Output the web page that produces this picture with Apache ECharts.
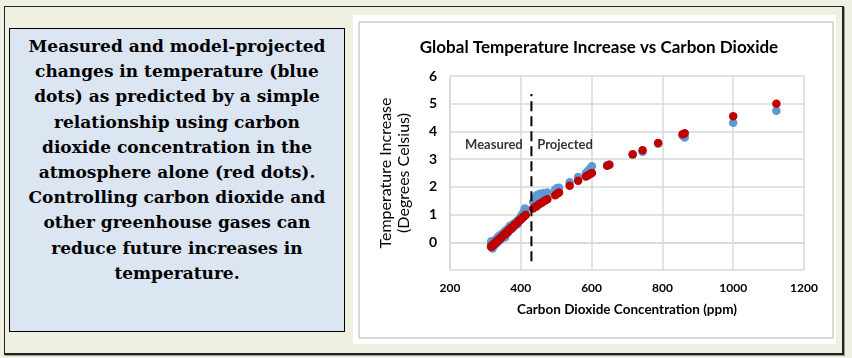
<!DOCTYPE html>
<html><head><meta charset="utf-8">
<script src="https://cdn.jsdelivr.net/npm/echarts@6/dist/echarts.min.js"></script>
<style>
html,body{margin:0;padding:0;width:852px;height:358px;overflow:hidden;background:#f0f0e2;}
#outer{position:absolute;left:4px;top:6px;width:837px;height:346px;border:1px solid #222;border-right:2px solid #222;border-bottom:2px solid #222;box-shadow:1px 1px 0 #999;}
#panel{position:absolute;left:353px;top:15px;width:483px;height:329px;background:#fff;}
#panelIn{position:absolute;left:358px;top:21px;width:472px;height:314px;border:2px solid #dadada;}
#box{position:absolute;left:9px;top:28px;width:334px;height:302px;background:#dce6f2;border:1px solid #000;}
#boxText{position:absolute;left:9px;top:34px;width:336px;text-align:center;font-family:"DejaVu Serif",serif;font-weight:bold;font-size:17px;line-height:25.2px;color:#000;}
#chart{position:absolute;left:0;top:0;width:852px;height:358px;}
</style></head>
<body>
<div id="outer"></div>
<div id="panel"></div>
<div id="panelIn"></div>
<div id="box"></div>
<div id="boxText">Measured and model-projected<br>changes in temperature (blue<br>dots) as predicted by a simple<br>relationship using carbon<br>dioxide concentration in the<br>atmosphere alone (red dots).<br>Controlling carbon dioxide and<br>other greenhouse gases can<br>reduce future increases in<br>temperature.</div>
<div id="chart"></div>
<script>
const measuredCO2 = [316.0,316.9,317.6,318.5,319.0,319.6,320.0,321.4,322.2,323.0,324.6,325.7,326.3,327.5,329.7,330.2,331.1,332.0,333.8,335.4,336.8,338.7,340.1,341.4,343.0,344.6,346.0,347.4,349.2,351.6,353.1,354.4,355.6,356.4,357.1,358.8,360.8,362.6,363.7,366.7,368.4,369.7,371.3,373.5,375.8,377.5,379.8,381.9,383.8,385.6,387.4,389.9,391.7,393.9,396.5,398.7,400.8,404.2,406.5,408.7,411.4,414.2];
const measuredRed = [-0.16,-0.15,-0.14,-0.13,-0.12,-0.12,-0.11,-0.10,-0.09,-0.08,-0.06,-0.05,-0.04,-0.03,0.00,0.01,0.02,0.03,0.05,0.07,0.08,0.10,0.12,0.14,0.15,0.17,0.19,0.21,0.23,0.26,0.27,0.29,0.30,0.31,0.32,0.34,0.37,0.39,0.40,0.44,0.46,0.47,0.49,0.52,0.54,0.56,0.59,0.62,0.64,0.66,0.68,0.71,0.73,0.76,0.79,0.81,0.84,0.88,0.91,0.93,0.96,0.99];
const measuredBlue = [0.02,-0.05,0.04,-0.10,-0.03,-0.18,-0.22,-0.02,-0.16,0.03,-0.12,-0.08,0.05,0.08,-0.06,0.02,0.10,0.12,-0.02,0.18,0.20,0.06,0.22,0.25,0.10,0.28,0.14,0.30,0.20,0.34,0.38,0.22,0.18,0.26,0.42,0.30,0.46,0.40,0.34,0.50,0.58,0.44,0.56,0.62,0.50,0.64,0.66,0.58,0.70,0.62,0.72,0.78,0.66,0.74,0.86,0.80,0.94,1.02,0.98,1.10,1.22,1.18];
const projectedCO2 = [435,440,445,450,455,460,465,470,475,497,503,508,538,562,584,590,596,601,644,650,716,744,788,857,863,1000,1122];
const projectedRed = [1.22,1.27,1.30,1.36,1.40,1.44,1.48,1.52,1.55,1.70,1.75,1.80,2.04,2.22,2.37,2.42,2.46,2.50,2.76,2.80,3.18,3.32,3.58,3.90,3.93,4.55,5.00];
const projectedBlue = [1.45,1.60,1.70,1.72,1.75,1.74,1.78,1.76,1.80,1.90,1.96,1.97,2.17,2.36,2.50,2.58,2.66,2.74,2.78,2.80,3.16,3.27,3.56,3.85,3.78,4.31,4.75];
const dividerX = 430;
const dividerRange = [-0.68, 5.35];
const regionLabels = [["Measured", 324, 3.5], ["Projected", 525, 3.5]];
const xTicks = [200, 400, 600, 800, 1000, 1200];
const yTicks = [0, 1, 2, 3, 4, 5, 6];

const co2All = measuredCO2.concat(projectedCO2);
const blueAll = measuredBlue.concat(projectedBlue);
const redAll = measuredRed.concat(projectedRed);
const blueData = co2All.map((c, i) => [c, blueAll[i]]);
const redData = co2All.map((c, i) => [c, redAll[i]]);

const FONT = 'Lato';
const chart = echarts.init(document.getElementById('chart'), null, {renderer: 'canvas'});
chart.setOption({
  backgroundColor: 'transparent',
  animation: false,
  title: {
    text: 'Global Temperature Increase vs Carbon Dioxide',
    left: 594, top: 34, textAlign: 'center',
    textStyle: {fontFamily: FONT, fontWeight: 'bold', fontSize: 17, color: '#000'}
  },
  grid: {left: 450, right: 48, top: 76, bottom: 88},
  xAxis: {
    type: 'value', min: 200, max: 1200, interval: 200,
    name: 'Carbon Dioxide Concentration (ppm)', nameLocation: 'middle', nameGap: 33,
    nameTextStyle: {fontFamily: FONT, fontWeight: 'bold', fontSize: 13.5, color: '#000'},
    axisLine: {show: true, lineStyle: {color: '#d9d9d9', width: 1.5}},
    axisTick: {show: false},
    splitLine: {show: true, lineStyle: {color: '#d9d9d9', width: 1.5}},
    axisLabel: {fontFamily: FONT, fontWeight: 'bold', fontSize: 12, color: '#000', margin: 12,
      formatter: v => xTicks.includes(v) ? String(v) : ''}
  },
  yAxis: {
    type: 'value', min: -1, max: 6, interval: 1,
    name: 'Temperature Increase\n(Degrees Celsius)', nameLocation: 'middle', nameGap: 37,
    nameTextStyle: {fontFamily: FONT, fontWeight: 'normal', fontSize: 16, color: '#000', lineHeight: 18},
    axisLine: {show: true, lineStyle: {color: '#d9d9d9', width: 1.5}},
    axisTick: {show: false},
    splitLine: {show: true, lineStyle: {color: '#d9d9d9', width: 1.5}},
    axisLabel: {fontFamily: FONT, fontWeight: 'bold', fontSize: 14, color: '#000', margin: 13,
      formatter: v => yTicks.includes(v) ? String(v) : ''}
  },
  series: [
    {type: 'scatter', name: 'Model', data: blueData, symbolSize: 8.5,
      itemStyle: {color: '#5b9bd5', opacity: 1}},
    {type: 'scatter', name: 'CO2 relationship', data: redData, symbolSize: 8.5,
      itemStyle: {color: '#c00000', opacity: 1}},
    {type: 'line', name: 'divider', data: [[dividerX, dividerRange[0]], [dividerX, dividerRange[1]]],
      symbol: 'none', lineStyle: {color: '#000', width: 2, type: [10, 5]}, z: 5},
    {type: 'scatter', name: 'labels', data: regionLabels.map(r => ({value: [r[1], r[2]], name: r[0]})),
      symbolSize: 1, silent: true, itemStyle: {color: 'rgba(0,0,0,0)'},
      label: {show: true, position: 'inside', formatter: p => p.name,
        fontFamily: FONT, fontWeight: 'bold', fontSize: 13, color: '#000'}}
  ]
});
</script>
</body></html>
